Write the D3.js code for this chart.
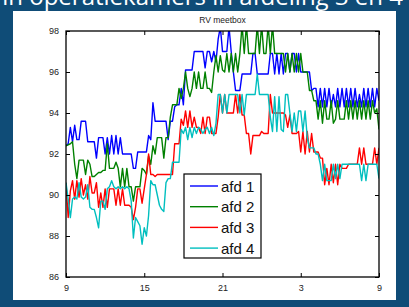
<!DOCTYPE html>
<html>
<head>
<meta charset="utf-8">
<script src="https://cdn.jsdelivr.net/npm/d3@7"></script>
<style>
  body { margin: 0; background: #0f4c77; }
  svg { display: block; }
</style>
</head>
<body>
<div id="f1"></div>
<script>
const W = 409, H = 307;

// one sample every 10 minutes, 9:00 -> 9:00 next day
const tickPos = [0, 36, 72, 108, 144];
const tickLabels = ["9", "15", "21", "3", "9"];
const yTicks = [86, 88, 90, 92, 94, 96, 98];
const seriesNames = ["afd 1", "afd 2", "afd 3", "afd 4"];
const seriesColors = ["#0000ff", "#008000", "#ff0000", "#00bfbf"];

const afd1 = [
  92.4, 92.5, 93.3, 92.6, 93.4, 92.7, 92.7, 93.6, 93.6, 93.6,
  92.6, 92.6, 92.6, 92.6, 91.8, 92.8, 92.8, 92.8, 92.0, 92.8,
  92.0, 92.9, 92.0, 92.9, 92.0, 92.8, 92.0, 92.0, 92.0, 92.0,
  92.0, 91.3, 91.3, 92.1, 92.1, 92.1, 92.1, 92.1, 92.9, 92.7,
  94.5, 93.6, 93.6, 93.6, 93.6, 93.6, 93.6, 92.7, 93.6, 93.6,
  94.3, 94.4, 94.4, 95.2, 94.4, 96.1, 96.1, 96.1, 96.1, 97.0,
  97.0, 97.0, 97.0, 97.0, 96.2, 97.0, 97.0, 96.5, 97.0, 96.5,
  97.6, 98.2, 97.0, 97.0, 97.0, 98.2, 97.0, 96.0, 95.1, 95.1,
  95.1, 95.9, 95.9, 95.9, 95.9, 95.9, 96.9, 96.9, 95.9, 95.9,
  95.9, 95.9, 95.9, 95.9, 96.9, 96.9, 95.9, 96.9, 95.9, 96.9,
  95.9, 96.9, 96.9, 96.0, 96.9, 96.9, 96.0, 96.9, 96.0, 96.0,
  96.0, 96.0, 96.0, 95.1, 95.2, 95.2, 94.3, 95.2, 94.3, 95.2,
  94.3, 95.2, 94.3, 94.9, 94.3, 95.2, 94.3, 95.2, 94.3, 95.2,
  94.3, 95.2, 94.3, 95.2, 94.3, 94.9, 94.3, 95.2, 94.3, 95.2,
  94.3, 95.2, 94.3, 95.2, 94.6
];
const afd2 = [
  92.4, 92.45, 92.5, 92.6, 91.5, 90.8, 91.7, 91.7, 91.7, 91.0,
  91.7, 91.5, 90.9, 90.9, 91.0, 91.1, 91.1, 91.2, 91.2, 92.5,
  91.3, 91.3, 91.3, 91.6, 91.3, 90.4, 91.3, 90.4, 91.3, 90.4,
  90.4, 89.7, 90.4, 90.4, 90.4, 91.3, 91.2, 91.0, 91.9, 91.5,
  92.4, 92.0, 92.8, 92.8, 92.8, 91.8, 92.8, 92.8, 93.8, 94.4,
  94.4, 94.4, 95.2, 94.7, 95.2, 96.0, 95.2, 94.8, 95.2, 96.0,
  95.2, 96.0, 95.2, 95.2, 96.0, 95.2, 95.2, 95.0, 96.0, 96.8,
  96.0, 96.8, 96.1, 96.0, 96.9, 96.0, 96.9, 96.0, 96.9, 96.0,
  96.9, 98.3, 96.9, 98.3, 96.9, 96.9, 96.9, 96.9, 98.3, 96.9,
  98.3, 96.9, 96.9, 98.3, 96.9, 98.3, 96.9, 96.9, 96.9, 96.9,
  96.9, 96.0, 96.9, 96.0, 96.9, 96.0, 96.9, 96.0, 96.9, 96.0,
  96.0, 96.0, 95.1, 95.1, 94.6, 94.6, 93.7, 94.6, 93.5, 94.6,
  93.7, 93.7, 94.6, 93.5, 93.7, 94.6, 93.7, 93.7, 93.7, 94.6,
  93.7, 94.6, 93.7, 94.6, 93.7, 94.6, 93.7, 94.6, 93.7, 94.6,
  93.7, 94.6, 94.0, 94.2, 93.2
];
const afd3 = [
  90.6, 88.9, 90.2, 90.7, 89.8, 90.7, 89.9, 90.8, 90.0, 90.5,
  89.8, 90.9, 90.1, 90.1, 90.6, 89.4, 90.1, 89.4, 90.3, 89.4,
  90.3, 90.3, 90.3, 89.5, 90.3, 89.5, 90.3, 89.5, 89.5, 89.5,
  89.4, 88.8, 89.4, 90.3, 90.3, 89.6, 90.3, 91.0, 92.0, 91.0,
  91.0, 90.9, 91.0, 91.0, 91.0, 91.0, 91.0, 91.0, 91.0, 91.0,
  92.5, 92.5, 92.5, 93.7, 93.4, 94.1, 93.3, 94.1, 93.3, 93.8,
  93.3, 93.3, 93.0, 93.8, 93.0, 93.8, 93.8, 93.0, 93.0, 93.0,
  93.8, 94.9, 94.0, 94.9, 94.0, 94.0, 94.0, 94.0, 94.9, 94.0,
  94.9, 93.9, 93.9, 93.0, 93.0, 92.0, 92.9, 92.9, 92.9, 92.9,
  93.1, 93.0, 93.0, 93.0, 94.9, 94.0, 94.0, 94.0, 94.0, 94.0,
  94.0, 93.9, 93.3, 93.9, 93.0, 93.0, 93.0, 93.1, 92.1, 93.1,
  92.0, 93.1, 92.1, 93.0, 92.1, 92.1, 92.1, 91.8, 91.8, 90.5,
  91.3, 90.5, 91.5, 90.6, 91.5, 90.5, 91.5, 91.3, 91.3, 91.3,
  91.5, 91.5, 91.5, 91.5, 91.5, 92.3, 91.5, 92.3, 91.5, 91.5,
  91.5, 91.5, 92.3, 91.5, 92.3
];
const afd4 = [
  90.6, 89.8, 88.9, 89.8, 89.9, 89.8, 90.6, 89.9, 89.8, 89.9,
  90.5, 89.4, 89.3, 89.3, 88.9, 88.4, 89.7, 89.7, 89.3, 90.3,
  90.4, 90.7, 90.4, 90.3, 90.4, 90.3, 90.4, 90.3, 90.4, 90.3,
  89.7, 87.9, 88.9, 88.7, 88.5, 87.6, 88.4, 88.0, 89.0, 90.7,
  90.5, 90.5, 90.0, 89.5, 89.3, 89.2, 90.6, 90.8, 90.8, 91.6,
  91.6, 91.6, 91.6, 93.2, 93.0, 93.3, 92.7, 93.3, 92.8, 93.3,
  93.0, 93.3, 93.2, 93.0, 93.2, 93.3, 93.0, 93.3, 92.9, 93.5,
  94.9, 94.9, 94.0, 94.9, 94.0, 94.9, 94.9, 94.9, 94.9, 94.9,
  94.0, 94.9, 93.9, 94.9, 94.9, 94.9, 94.9, 94.9, 95.9, 94.9,
  94.9, 94.9, 94.9, 94.9, 93.8, 93.1, 94.8, 93.1, 94.8, 93.2,
  93.1, 94.9, 94.9, 94.0, 93.1, 94.0, 93.1, 94.1, 94.1, 93.1,
  94.1, 92.8, 92.3, 92.3, 92.3, 92.0, 92.0, 91.5, 90.7, 91.5,
  90.7, 90.7, 90.7, 91.5, 90.8, 91.5, 90.8, 91.5, 91.5, 91.5,
  91.5, 91.5, 91.5, 91.5, 91.5, 91.5, 90.7, 91.5, 90.7, 91.5,
  91.5, 91.5, 91.5, 91.5, 90.8
];
const series = [afd1, afd2, afd3, afd4];

const svg = d3.select("#f1").append("svg")
    .attr("width", W)
    .attr("height", H);

// slide background + white figure panel
svg.append("rect").attr("width", W).attr("height", H).attr("fill", "#0f4c77");
svg.append("text")
    .attr("x", 403).attr("y", 5)
    .attr("text-anchor", "end")
    .attr("font-family", "'Open Sans', sans-serif")
    .attr("font-size", 24)
    .attr("fill", "#fff")
    .text("RV in operatiekamers in afdeling 3 en 4");
svg.append("rect")
    .attr("x", 13).attr("y", 11)
    .attr("width", 383).attr("height", 289)
    .attr("fill", "#fff");

const plot = {left: 66, right: 379, top: 31, bottom: 277};

const x = d3.scaleLinear().domain([0, 144]).range([plot.left, plot.right]);
const y = d3.scaleLinear().domain([86, 98]).range([plot.bottom, plot.top]);

svg.append("clipPath").attr("id", "clip")
   .append("rect")
   .attr("x", plot.left).attr("y", plot.top)
   .attr("width", plot.right - plot.left)
   .attr("height", plot.bottom - plot.top);

const line = d3.line()
    .x((d, i) => x(i))
    .y(d => y(d));

const lines = svg.append("g").attr("clip-path", "url(#clip)");
series.forEach(function(s, k){
    lines.append("path")
        .datum(s)
        .attr("d", line)
        .attr("fill", "none")
        .attr("stroke", seriesColors[k])
        .attr("stroke-width", 1.4)
        .attr("stroke-linejoin", "round");
});

// axes, matlab style: inward ticks on all four sides
const tickFont = "'Liberation Sans', Arial, sans-serif";
const xAxis = d3.axisBottom(x).tickValues(tickPos)
    .tickFormat((d, i) => tickLabels[i]).tickSize(-4).tickPadding(8);
const xAxisTop = d3.axisTop(x).tickValues(tickPos).tickFormat("").tickSize(-4);
const yAxis = d3.axisLeft(y).tickValues(yTicks).tickSize(-4).tickPadding(7);
const yAxisRight = d3.axisRight(y).tickValues(yTicks).tickFormat("").tickSize(-4);

function styleAxis(g){
    g.select(".domain").remove();
    g.selectAll("line").attr("stroke", "#000");
    g.selectAll("text").attr("font-family", tickFont).attr("font-size", 9).attr("fill", "#222");
}
svg.append("g").attr("transform", `translate(0,${plot.bottom})`).call(xAxis).call(styleAxis);
svg.append("g").attr("transform", `translate(0,${plot.top})`).call(xAxisTop).call(styleAxis);
svg.append("g").attr("transform", `translate(${plot.left},0)`).call(yAxis).call(styleAxis);
svg.append("g").attr("transform", `translate(${plot.right},0)`).call(yAxisRight).call(styleAxis);

svg.append("rect")
    .attr("x", plot.left).attr("y", plot.top)
    .attr("width", plot.right - plot.left)
    .attr("height", plot.bottom - plot.top)
    .attr("fill", "none")
    .attr("stroke", "#000")
    .attr("stroke-width", 1.3);

svg.append("text")
    .attr("x", (plot.left + plot.right) / 2).attr("y", 23)
    .attr("text-anchor", "middle")
    .attr("font-family", tickFont)
    .attr("font-size", 8.5)
    .attr("fill", "#222")
    .text("RV meetbox");

// legend
const leg = svg.append("g").attr("transform", "translate(184,174)");
leg.append("rect")
    .attr("width", 77).attr("height", 84)
    .attr("fill", "#fff").attr("stroke", "#000").attr("stroke-width", 1.2);
seriesNames.forEach(function(name, k){
    const cy = 12 + k * 20.7;
    leg.append("line")
        .attr("x1", 6).attr("x2", 34)
        .attr("y1", cy).attr("y2", cy)
        .attr("stroke", seriesColors[k]).attr("stroke-width", 1.4);
    leg.append("text")
        .attr("x", 37).attr("y", cy + 5.5)
        .attr("font-family", tickFont)
        .attr("font-size", 15)
        .attr("fill", "#111")
        .text(name);
});
</script>
</body>
</html>
